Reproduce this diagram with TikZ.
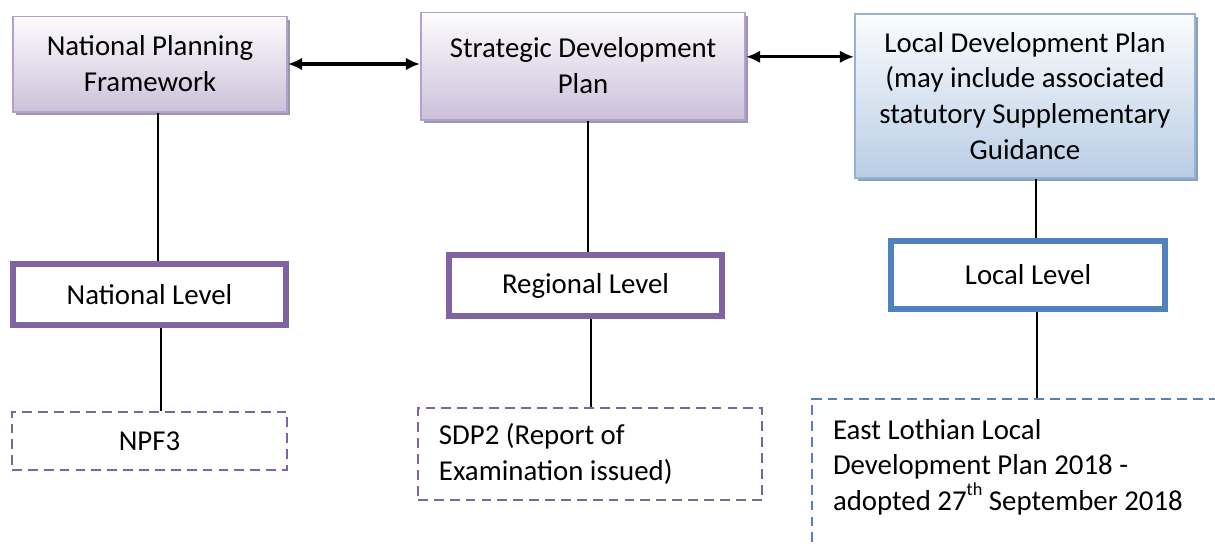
\documentclass[tikz,border=0pt]{standalone}
\usepackage{fontspec}
\setmainfont{Carlito}
\usetikzlibrary{positioning,shadows,arrows.meta}

\definecolor{lilac}{RGB}{178,162,199}
\definecolor{lilacfill}{RGB}{204,193,218}
\definecolor{lilacshade}{RGB}{160,148,178}
\definecolor{purpleline}{RGB}{128,100,162}
\definecolor{skyline}{RGB}{149,179,215}
\definecolor{skyfill}{RGB}{185,205,229}
\definecolor{skyshade}{RGB}{140,160,186}
\definecolor{blueline}{RGB}{79,129,189}

\begin{document}
\begin{tikzpicture}[x=0.025cm, y=-0.025cm, >={Latex[length=10pt, width=9pt]},
    every node/.style={rectangle, text=black, font=\fontsize{20.5}{25.5}\selectfont},
    plan/.style={draw=lilac, line width=1.4pt, top color=white!95!lilacfill, bottom color=lilacfill,
        drop shadow={shadow xshift=0.08cm, shadow yshift=-0.08cm, fill=lilacshade, opacity=1}, align=center},
    level/.style={draw=purpleline, line width=0.15cm, fill=white},
    doc/.style={draw=purpleline, line width=1.4pt, dash pattern=on 7pt off 4.3pt}]

    \useasboundingbox (0,0) rectangle (1215,547);

    % Top row: the plans
    \node (A)[plan, minimum width=6.85cm, minimum height=2.375cm] at (150, 64) {National Planning\\Framework};
    \node (B)[plan, minimum width=8.1cm, minimum height=2.675cm] at (583, 66) {Strategic Development\\Plan};
    \node (C)[plan, draw=skyline, top color=white!94!skyfill, bottom color=skyfill,
        drop shadow={shadow xshift=0.08cm, shadow yshift=-0.08cm, fill=skyshade, opacity=1},
        minimum width=8.5cm, minimum height=4.1cm] at (1025, 96)
        {Local Development Plan\\(may include associated\\statutory Supplementary\\Guidance};

    % Middle row: the levels
    \node (D)[level, minimum width=6.825cm, minimum height=1.525cm] at (149.5, 294.5) {National Level};
    \node (E)[level, minimum width=6.825cm, minimum height=1.525cm] at (585.5, 285.5) {Regional Level};
    \node (F)[level, draw=blueline, minimum width=6.85cm, minimum height=1.7cm] at (1028, 275) {Local Level};

    % Bottom row: the current documents
    \node (G)[doc, minimum width=6.875cm, minimum height=1.45cm] at (149.5, 441) {NPF3};
    \node (H)[doc, inner xsep=0.525cm, inner ysep=0pt, text width=7.55cm, align=flush left,
        minimum height=2.3cm] at (590, 454) {SDP2 (Report of\\Examination issued)};
    \node (I)[doc, draw=blueline, anchor=north west, inner xsep=0.525cm, inner ysep=0.5cm,
        text width=12cm, align=flush left, text depth=6cm] at (811, 398)
        {East Lothian Local\\Development Plan 2018 -\\adopted 27\raisebox{1.1ex}{\fontsize{13}{13}\selectfont th} September 2018};

    % Links between the plans
    \draw[<->, line width=2.2pt] (A.east) -- (A.east -| B.west);
    \draw[<->, line width=2.2pt] ([yshift=0.23cm]B.east) -- ([yshift=0.23cm]B.east -| C.west);

    % Plan to level to document
    \begin{scope}[line width=1.1pt]
        \draw ([xshift=0.2cm]A.south) -- ([xshift=0.2cm]A.south |- D.north);
        \draw ([xshift=0.29cm]D.south) -- ([xshift=0.29cm]D.south |- G.north);
        \draw ([xshift=0.125cm]B.south) -- ([xshift=0.125cm]B.south |- E.north);
        \draw ([xshift=0.14cm]E.south) -- ([xshift=0.14cm]E.south |- H.north);
        \draw ([xshift=0.275cm]C.south) -- ([xshift=0.275cm]C.south |- F.north);
        \draw ([xshift=0.225cm]F.south) -- ([xshift=0.225cm]F.south |- I.north);
    \end{scope}
\end{tikzpicture}
\end{document}
